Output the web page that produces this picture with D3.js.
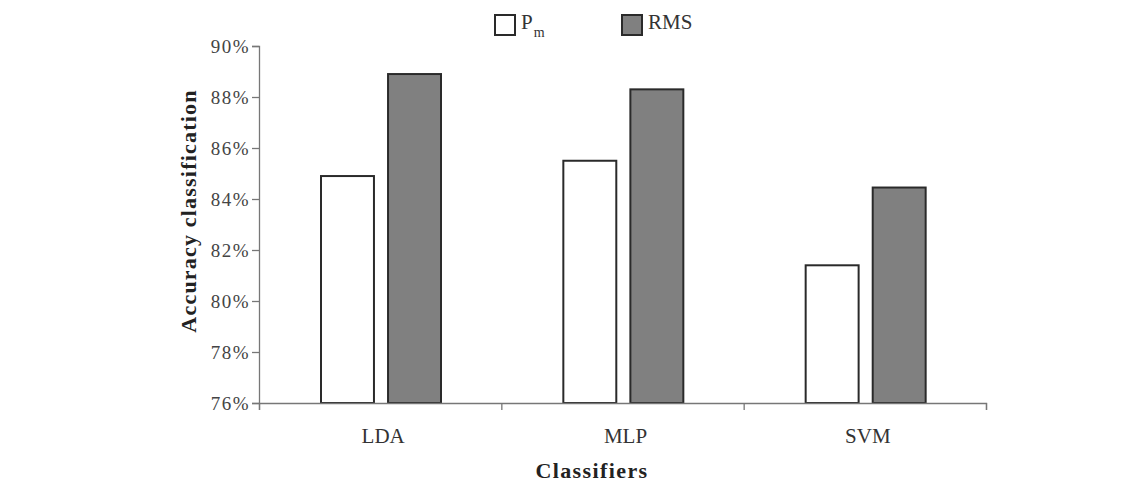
<!DOCTYPE html>
<html><head><meta charset="utf-8">
<script src="https://cdn.jsdelivr.net/npm/d3@7/dist/d3.min.js"></script>
<style>body{margin:0;background:#fff}</style>
</head><body>
<svg id="chart" width="1147" height="484"></svg>
<script>
const categories = ["LDA", "MLP", "SVM"];
const seriesNames = ["Pm", "RMS"];
const pmValues = [84.9, 85.5, 81.4];
const rmsValues = [88.9, 88.3, 84.45];
const yTicks = [76, 78, 80, 82, 84, 86, 88, 90];

(function () {
const svg = d3.select("#chart");
const mLeft = 259, mRight = 986, mTop = 46, mBottom = 403;
const font = "'Liberation Serif', 'DejaVu Serif', serif";

const y = d3.scaleLinear().domain([76, 90]).range([mBottom, mTop]);
const x0 = d3.scaleBand().domain(categories).range([mLeft, mRight]).paddingInner(0).paddingOuter(0);
const x1 = d3.scaleBand().domain(seriesNames).range([62, 182]).paddingInner(0.21);

const data = categories.map((c, i) => ({cat: c, vals: [
  {s: "Pm", v: pmValues[i]}, {s: "RMS", v: rmsValues[i]}]}));
const fills = {Pm: "#ffffff", RMS: "#808080"};

// y axis
const yAxis = d3.axisLeft(y).tickValues(yTicks).tickSize(7).tickFormat(d => d + "%");
const gy = svg.append("g").attr("transform", `translate(${mLeft},0)`).call(yAxis);
gy.select(".domain").attr("stroke", "#777").attr("stroke-width", 1.3);
gy.selectAll(".tick line").attr("stroke", "#777").attr("stroke-width", 1.3);
gy.selectAll(".tick text").attr("font-family", font).attr("font-size", 19).attr("fill", "#444")
  .attr("letter-spacing", 1.5).attr("x", -9).attr("dy", "0.36em");

// bars
const g = svg.append("g").selectAll("g").data(data).join("g")
  .attr("transform", d => `translate(${x0(d.cat)},0)`);
g.selectAll("rect").data(d => d.vals).join("rect")
  .attr("x", d => x1(d.s)).attr("width", x1.bandwidth())
  .attr("y", d => y(d.v)).attr("height", d => y(76) - y(d.v))
  .attr("fill", d => fills[d.s]).attr("stroke", "#2a2a2a").attr("stroke-width", 2);

// x axis
const xAxis = d3.axisBottom(d3.scaleLinear().domain([0, 3]).range([mLeft, mRight]))
  .tickValues([0, 1, 2, 3]).tickSize(7).tickFormat("");
const gx = svg.append("g").attr("transform", `translate(0,${mBottom})`).call(xAxis);
gx.select(".domain").attr("stroke", "#777").attr("stroke-width", 1.3);
gx.selectAll(".tick line").attr("stroke", "#777").attr("stroke-width", 1.3);

svg.append("g").selectAll("text").data(categories).join("text")
  .attr("x", d => x0(d) + x0.bandwidth() / 2 + 3).attr("y", 443)
  .attr("text-anchor", "middle").attr("font-family", font).attr("font-size", 21).attr("fill", "#333")
  .text(d => d);

// axis titles
svg.append("text").attr("x", 592).attr("y", 478).attr("text-anchor", "middle")
  .attr("font-family", font).attr("font-size", 22).attr("font-weight", "bold").attr("fill", "#222")
  .attr("letter-spacing", 1.4).text("Classifiers");
svg.append("text").attr("transform", "translate(196,211) rotate(-90)").attr("text-anchor", "middle")
  .attr("font-family", font).attr("font-size", 22).attr("font-weight", "bold").attr("fill", "#222")
  .attr("letter-spacing", 1.2).text("Accuracy classification");

// legend
const legX = [495, 622];
seriesNames.forEach((s, i) => {
  svg.append("rect").attr("x", legX[i]).attr("y", 15).attr("width", 20).attr("height", 20)
    .attr("fill", fills[s]).attr("stroke", "#2a2a2a").attr("stroke-width", 2);
  const t = svg.append("text").attr("x", legX[i] + 26).attr("y", 29)
    .attr("font-family", font).attr("font-size", 21).attr("fill", "#333");
  if (s === "Pm") {
    t.append("tspan").text("P");
    t.append("tspan").attr("font-size", 14).attr("dy", 8).attr("dx", 1).text("m");
  } else {
    t.text(s);
  }
});
})();
</script>
</body></html>
